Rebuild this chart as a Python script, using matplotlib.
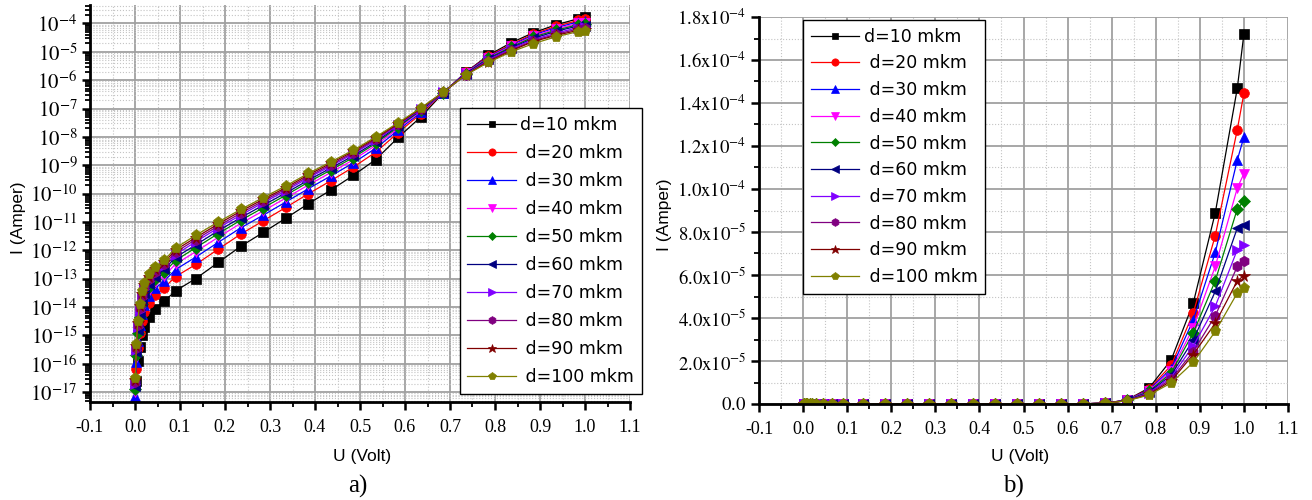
import numpy as np
import matplotlib
matplotlib.use('Agg')
import matplotlib.pyplot as plt
from matplotlib.ticker import MultipleLocator, LogLocator, NullFormatter

plt.rcParams['mathtext.fontset'] = 'stix'
plt.rcParams['font.family'] = ['Liberation Sans', 'DejaVu Sans']

# ---------------- data ----------------
U_volt = [0.001, 0.003, 0.006, 0.01, 0.015, 0.02, 0.03, 0.045, 0.065, 0.09,
          0.135, 0.185, 0.235, 0.285, 0.335, 0.385, 0.435, 0.485, 0.535, 0.585,
          0.635, 0.685, 0.735, 0.785, 0.835, 0.885, 0.935, 0.985, 1.0]

series_labels = ['d=10 mkm', ' d=20 mkm', ' d=30 mkm', ' d=40 mkm', ' d=50 mkm',
                 ' d=60 mkm', ' d=70 mkm', ' d=80 mkm', ' d=90 mkm', ' d=100 mkm']

# log10 of current (Amper) for each thickness d
log_I_d10 = [-17.8, -16.6, -15.9, -15.4, -15.0, -14.7, -14.35, -14.08, -13.8, -13.43, -13.0, -12.43, -11.86, -11.37, -10.87, -10.36, -9.88, -9.36, -8.8, -8.02, -7.3, -6.45, -5.72, -5.125, -4.688, -4.329, -4.051, -3.833, -3.764]
log_I_d20 = [-17.37, -16.17, -15.44, -14.9, -14.49, -14.19, -13.86, -13.59, -13.32, -12.93, -12.5, -11.96, -11.43, -10.96, -10.49, -10.01, -9.55, -9.07, -8.54, -7.85, -7.19, -6.45, -5.73, -5.155, -4.745, -4.374, -4.106, -3.894, -3.84]
log_I_d30 = [-17.15, -15.95, -15.2, -14.65, -14.23, -13.93, -13.6, -13.34, -13.08, -12.68, -12.24, -11.72, -11.21, -10.76, -10.3, -9.83, -9.38, -8.92, -8.4, -7.76, -7.14, -6.44, -5.74, -5.18, -4.783, -4.409, -4.152, -3.945, -3.906]
log_I_d40 = [-17.0, -15.79, -15.03, -14.47, -14.04, -13.74, -13.42, -13.16, -12.9, -12.49, -12.05, -11.54, -11.05, -10.61, -10.16, -9.7, -9.26, -8.81, -8.3, -7.7, -7.1, -6.44, -5.76, -5.208, -4.81, -4.451, -4.194, -3.998, -3.97]
log_I_d50 = [-16.88, -15.68, -14.91, -14.34, -13.9, -13.6, -13.29, -13.03, -12.77, -12.36, -11.91, -11.41, -10.94, -10.5, -10.06, -9.6, -9.17, -8.73, -8.23, -7.65, -7.07, -6.44, -5.77, -5.229, -4.839, -4.481, -4.242, -4.042, -4.025]
log_I_d60 = [-16.79, -15.59, -14.81, -14.23, -13.79, -13.49, -13.18, -12.93, -12.67, -12.25, -11.81, -11.31, -10.85, -10.41, -9.98, -9.53, -9.1, -8.67, -8.18, -7.61, -7.05, -6.43, -5.78, -5.26, -4.87, -4.526, -4.281, -4.087, -4.08]
log_I_d70 = [-16.7, -15.5, -14.71, -14.13, -13.68, -13.38, -13.08, -12.82, -12.57, -12.15, -11.7, -11.21, -10.76, -10.32, -9.9, -9.45, -9.03, -8.6, -8.12, -7.58, -7.03, -6.43, -5.8, -5.284, -4.903, -4.569, -4.343, -4.144, -4.132]
log_I_d80 = [-16.63, -15.43, -14.64, -14.05, -13.61, -13.31, -13.0, -12.75, -12.5, -12.07, -11.62, -11.14, -10.69, -10.26, -9.84, -9.4, -8.98, -8.56, -8.08, -7.55, -7.01, -6.43, -5.81, -5.31, -4.939, -4.613, -4.387, -4.194, -4.178]
log_I_d90 = [-16.57, -15.37, -14.57, -13.98, -13.53, -13.23, -12.93, -12.67, -12.42, -11.99, -11.55, -11.07, -10.62, -10.2, -9.79, -9.34, -8.93, -8.51, -8.04, -7.53, -7.0, -6.42, -5.81, -5.347, -4.971, -4.638, -4.425, -4.242, -4.224]
log_I_d100 = [-16.5, -15.3, -14.5, -13.9, -13.45, -13.15, -12.85, -12.6, -12.35, -11.92, -11.47, -11.0, -10.56, -10.14, -9.73, -9.29, -8.88, -8.47, -8.0, -7.5, -6.98, -6.42, -5.82, -5.377, -5.009, -4.714, -4.472, -4.287, -4.269]

all_series = [log_I_d10, log_I_d20, log_I_d30, log_I_d40, log_I_d50,
              log_I_d60, log_I_d70, log_I_d80, log_I_d90, log_I_d100]

colors = ['#000000', '#ff0000', '#0000ff', '#ff00ff', '#008000',
          '#000080', '#8000ff', '#800080', '#800000', '#808000']
markers = ['s', 'o', '^', 'v', 'D', '<', '>', 'h', '*', 'p']
msizes = [6.5, 7, 7, 7, 6, 7, 7, 7.5, 8.5, 8]

x_ticks = [-0.1, 0.0, 0.1, 0.2, 0.3, 0.4, 0.5, 0.6, 0.7, 0.8, 0.9, 1.0, 1.1]
log_decades = list(range(-17, -3))
lin_ticks = [0.0, 2e-5, 4e-5, 6e-5, 8e-5, 1.0e-4, 1.2e-4, 1.4e-4, 1.6e-4, 1.8e-4]
lin_tick_labels = [r'$\mathrm{0.0}$', r'$\mathrm{2.0x10}^{-5}$', r'$\mathrm{4.0x10}^{-5}$',
                   r'$\mathrm{6.0x10}^{-5}$', r'$\mathrm{8.0x10}^{-5}$', r'$\mathrm{1.0x10}^{-4}$',
                   r'$\mathrm{1.2x10}^{-4}$', r'$\mathrm{1.4x10}^{-4}$', r'$\mathrm{1.6x10}^{-4}$',
                   r'$\mathrm{1.8x10}^{-4}$']

# ---------------- figure ----------------
W, H = 1312, 500
fig = plt.figure(figsize=(W / 100, H / 100), dpi=100)


def rect(x0, x1, ytop, ybot):
    return [x0 / W, 1 - ybot / H, (x1 - x0) / W, (ybot - ytop) / H]


axL = fig.add_axes(rect(90, 630, 5, 402))
axR = fig.add_axes(rect(759, 1288, 17, 404))

U = np.array(U_volt)
for logI, c, m, ms, lab in zip(all_series, colors, markers, msizes, series_labels):
    I = 10.0 ** np.array(logI)
    axL.plot(U, I, color=c, marker=m, ms=ms, lw=0.9, mec=c, mew=0.5, label=lab)
    axR.plot(U, I, color=c, marker=m, ms=ms, lw=0.9, mec=c, mew=0.5, label=lab)

serif = 'Liberation Serif'

for ax in (axL, axR):
    ax.set_xlim(-0.1, 1.1)
    ax.set_xticks(x_ticks)
    ax.set_xticklabels([f'{v:.1f}' for v in x_ticks], fontfamily=serif, fontsize=13)
    ax.xaxis.set_minor_locator(MultipleLocator(0.05))
    ax.spines['top'].set_visible(False)
    ax.spines['right'].set_visible(False)
    ax.spines['left'].set_linewidth(2)
    ax.spines['bottom'].set_linewidth(2)
    ax.tick_params(which='major', direction='out', length=6, width=1.8, pad=6)
    ax.tick_params(which='minor', direction='out', length=3.5, width=1.3)
    ax.grid(which='major', color='#a0a0a0', lw=1.3, ls='-')
    ax.grid(which='minor', color='#c4c4c4', lw=0.8, ls=':')
    ax.set_axisbelow(True)

# left (log) axes
axL.set_yscale('log')
axL.set_ylim(10 ** -17.35, 10 ** -3.35)
axL.set_yticks([10.0 ** e for e in log_decades])
axL.set_yticklabels([rf'$\mathrm{{10}}^{{{e}}}$' for e in log_decades], fontsize=15)
axL.yaxis.set_minor_locator(LogLocator(base=10, subs=np.arange(2, 10), numticks=40))
axL.yaxis.set_minor_formatter(NullFormatter())
axL.tick_params(axis='y', which='major', pad=3)

# right (linear) axes
axR.set_ylim(0, 1.8e-4)
axR.set_yticks(lin_ticks)
axR.set_yticklabels(lin_tick_labels, fontsize=13.5)
axR.yaxis.set_minor_locator(MultipleLocator(1e-5))
axR.tick_params(axis='y', which='major', pad=3)

leg_kw = dict(frameon=True, fancybox=False, edgecolor='black', framealpha=1,
              prop={'family': 'DejaVu Sans', 'size': 12.5}, handlelength=2.8,
              handletextpad=0.25, borderpad=0.45, markerscale=0.75,
              borderaxespad=0)
legL = axL.legend(loc='upper right', bbox_to_anchor=((642 - 90) / 540, (402 - 108) / 397),
                  labelspacing=0.58, **leg_kw)
legR = axR.legend(loc='upper left', bbox_to_anchor=((803 - 759) / 529, (404 - 20) / 387),
                  labelspacing=0.5, **leg_kw)
for lg in (legL, legR):
    lg.get_frame().set_linewidth(1.0)

# axis labels
fig.text(18 / W, 1 - 218 / H, 'I (Amper)', rotation=90, ha='center', va='center', fontsize=12.5)
fig.text(664 / W, 1 - 215 / H, 'I (Amper)', rotation=90, ha='center', va='center', fontsize=12.5)
fig.text(362 / W, 1 - 457 / H, 'U (Volt)', ha='center', va='center', fontsize=12.5)
fig.text(1020 / W, 1 - 457 / H, 'U (Volt)', ha='center', va='center', fontsize=12.5)
fig.text(358 / W, 1 - 486 / H, 'a)', ha='center', va='center', fontsize=18, fontfamily=serif)
fig.text(1013 / W, 1 - 486 / H, 'b)', ha='center', va='center', fontsize=18, fontfamily=serif)

fig.savefig('out.png', dpi=100)
